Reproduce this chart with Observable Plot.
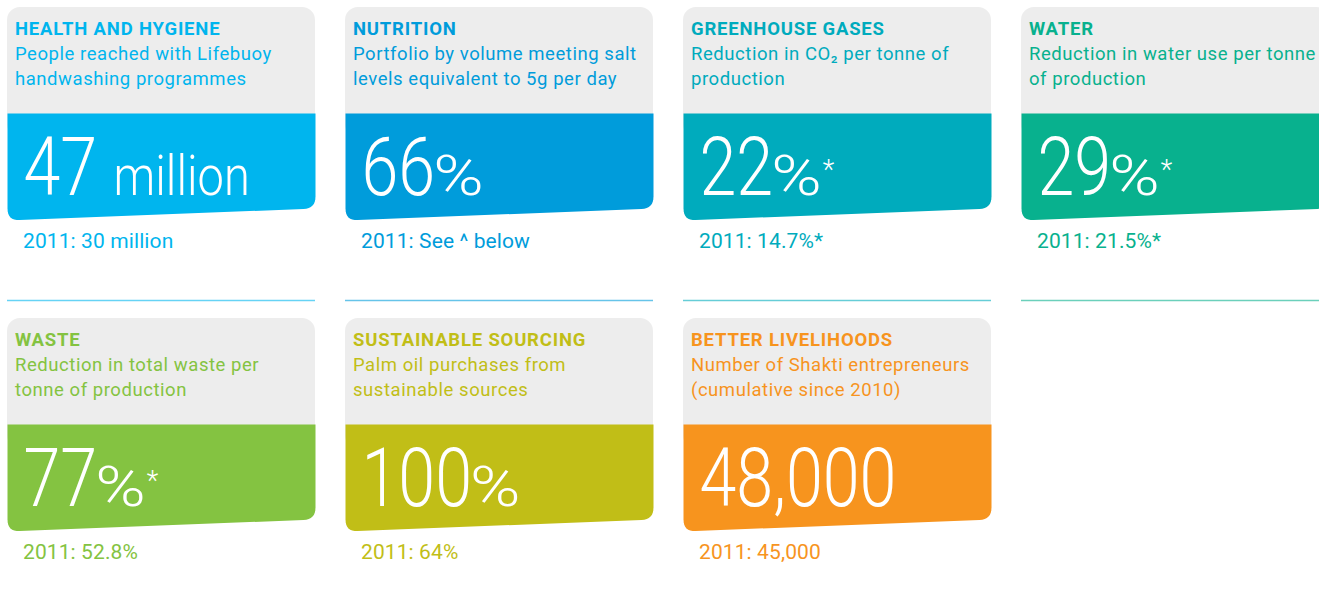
<!DOCTYPE html>
<html>
<head>
<meta charset="utf-8">
<script src="https://cdn.jsdelivr.net/npm/d3@7"></script>
<script src="https://cdn.jsdelivr.net/npm/@observablehq/plot@0.6"></script>
<style>
  html, body { margin: 0; padding: 0; background: #ffffff; overflow: hidden; }
  #chart svg { display: block; max-width: none !important; width: 1329px !important; height: 603px !important;
               font-family: Roboto, "Noto Sans", sans-serif; }
  g.tile-title text { letter-spacing: 0.8px; }
  g.tile-desc text { letter-spacing: 0.55px; }
  g.tile-prev text { letter-spacing: 0.1px; }
</style>
</head>
<body>
<div id="chart"></div>
<script>
// ---- data ----
const categories = ["HEALTH AND HYGIENE", "NUTRITION", "GREENHOUSE GASES", "WATER",
                    "WASTE", "SUSTAINABLE SOURCING", "BETTER LIVELIHOODS"];
const descriptions = [
  "People reached with Lifebuoy\nhandwashing programmes",
  "Portfolio by volume meeting salt\nlevels equivalent to 5g per day",
  "Reduction in CO\u2082 per tonne of\nproduction",
  "Reduction in water use per tonne\nof production",
  "Reduction in total waste per\ntonne of production",
  "Palm oil purchases from\nsustainable sources",
  "Number of Shakti entrepreneurs\n(cumulative since 2010)"
];
const values = [47, 66, 22, 29, 77, 100, 48000];
const units = ["million", "%", "%", "%", "%", "%", ""];
const notes = ["", "", "*", "*", "*", "", ""];
const previous = ["2011: 30 million", "2011: See ^ below", "2011: 14.7%*", "2011: 21.5%*",
                  "2011: 52.8%", "2011: 64%", "2011: 45,000"];

// ---- styles ----
const palette = ["#00b5ee", "#009cdb", "#00abbd", "#08b18e", "#84c341", "#c1be17", "#f7941e"];
const headerGrey = "#ededed";

// ---- layout (tile-local pixel units) ----
const TW = 308, TH = 285;
const L = {
  headerBottom: 106, blockLeftBottom: 213, blockRightBottom: 201, corner: 12,
  titleY: 27.5, descY: 77, numY: 187, noteY: 171, prevY: 240, dividerY: 293,
  textX: 7.5, numX: 16, prevX: 15.5
};
const NUM_FONT_SIZE = 81, UNIT_FONT_SIZE = 56, NOTE_FONT_SIZE = 27, BIG_WEIGHT = 300;
const NUM_SX = 0.82, WORD_SX = 0.84, PCT_SX = 1.22;

const ctx = document.createElement("canvas").getContext("2d");
function measure(text, size, weight = BIG_WEIGHT) {
  ctx.font = `${weight} ${size}px Roboto`;
  return ctx.measureText(text).width;
}
const fmt = d3.format(",");

const tiles = categories.map((c, i) => {
  const valueText = fmt(values[i]);
  const numW = measure(valueText, NUM_FONT_SIZE) * NUM_SX;
  const isWord = units[i] && units[i] !== "%";
  const gap = isWord ? measure(" ", UNIT_FONT_SIZE) * 1.2 : -2;
  const unitX = L.numX + numW + gap;
  const noteX = unitX + measure(units[i], UNIT_FONT_SIZE) * (isWord ? WORD_SX : PCT_SX) + 1;
  return {
    category: c, description: descriptions[i], valueText, unit: units[i], note: notes[i],
    prev: previous[i], col: i % 4, row: Math.floor(i / 4), unitX, noteX,
    word: isWord ? units[i] : "", pct: isWord ? "" : units[i]
  };
});

// colored block outline with slanted, rounded bottom
function quad(pts, p0, c, p1, n = 8) {
  for (let k = 1; k <= n; k++) {
    const t = k / n, u = 1 - t;
    pts.push([u * u * p0[0] + 2 * u * t * c[0] + t * t * p1[0],
              u * u * p0[1] + 2 * u * t * c[1] + t * t * p1[1]]);
  }
}
const blockPoints = tiles.flatMap(d => {
  const top = L.headerBottom, bl = L.blockLeftBottom, br = L.blockRightBottom, r = L.corner;
  const slope = (bl - br) / TW;
  const pts = [[0, top], [TW, top], [TW, br - r]];
  quad(pts, [TW, br - r], [TW, br], [TW - r, br + r * slope]);
  pts.push([r, bl - r * slope]);
  quad(pts, [r, bl - r * slope], [0, bl], [0, bl - r]);
  pts.push([0, top]);
  return pts.map(([x, y]) => ({category: d.category, col: d.col, row: d.row, x, y}));
});

const facet = {fx: "col", fy: "row"};
const big = {fill: "white", fontWeight: BIG_WEIGHT, textAnchor: "start", lineAnchor: "bottom"};
const chart = Plot.plot({
  width: 1329,
  height: 603,
  margin: 0,
  style: {background: "#ffffff", fontFamily: "Roboto, 'Noto Sans', sans-serif"},
  x: {domain: [0, TW], range: [0, TW], axis: null},
  y: {domain: [0, TH], range: [0, TH], axis: null},
  fx: {domain: [0, 1, 2, 3], range: [7, 1329], paddingInner: 30 / 338, paddingOuter: 0, axis: null},
  fy: {domain: [0, 1], range: [7, 603], paddingInner: 26 / 311, paddingOuter: 0, axis: null},
  color: {domain: categories, range: palette},
  marks: [
    Plot.rect(tiles, {...facet, x1: () => 0, x2: () => TW, y1: () => 0, y2: () => 130,
      rx: 13, fill: headerGrey}),
    Plot.line(blockPoints, {...facet, x: "x", y: "y", z: "category", fill: "category",
      stroke: "none"}),
    Plot.ruleY(tiles.filter(d => d.row === 0), {...facet, y: () => L.dividerY,
      x1: () => 0, x2: () => TW, stroke: "category", strokeOpacity: 0.6, strokeWidth: 1.6}),
    Plot.text(tiles, {...facet, x: () => L.textX, y: () => L.titleY, text: "category",
      fill: "category", fontSize: 18.5, fontWeight: 700, textAnchor: "start",
      lineAnchor: "bottom", className: "tile-title"}),
    Plot.text(tiles, {...facet, x: () => L.textX, y: () => L.descY, text: "description",
      fill: "category", fontSize: 18.5, fontWeight: 400, textAnchor: "start",
      lineAnchor: "bottom", lineHeight: 1.3, className: "tile-desc"}),
    Plot.text(tiles, {...facet, ...big, x: () => L.numX, y: () => L.numY, text: "valueText",
      fontSize: NUM_FONT_SIZE, className: "bignum"}),
    Plot.text(tiles, {...facet, ...big, x: "unitX", y: () => L.numY, text: "word",
      fontSize: UNIT_FONT_SIZE, className: "bigword"}),
    Plot.text(tiles, {...facet, ...big, x: "unitX", y: () => L.numY, text: "pct",
      fontSize: UNIT_FONT_SIZE, className: "bigpct"}),
    Plot.text(tiles, {...facet, ...big, x: "noteX", y: () => L.noteY, text: "note",
      fontSize: NOTE_FONT_SIZE, className: "bignote"}),
    Plot.text(tiles, {...facet, x: () => L.prevX, y: () => L.prevY, text: "prev",
      fill: "category", fontSize: 21, fontWeight: 400, textAnchor: "start",
      lineAnchor: "bottom", className: "tile-prev"})
  ]
});

function squeeze(svg, cls, sx) {
  svg.querySelectorAll(`g.${cls} text`).forEach(t => {
    const tr = t.getAttribute("transform") || "";
    t.setAttribute("transform", `${tr} scale(${sx},1)`);
  });
}
squeeze(chart, "bignum", NUM_SX);
squeeze(chart, "bigword", WORD_SX);
squeeze(chart, "bigpct", PCT_SX);

document.getElementById("chart").append(chart);
</script>
</body>
</html>
